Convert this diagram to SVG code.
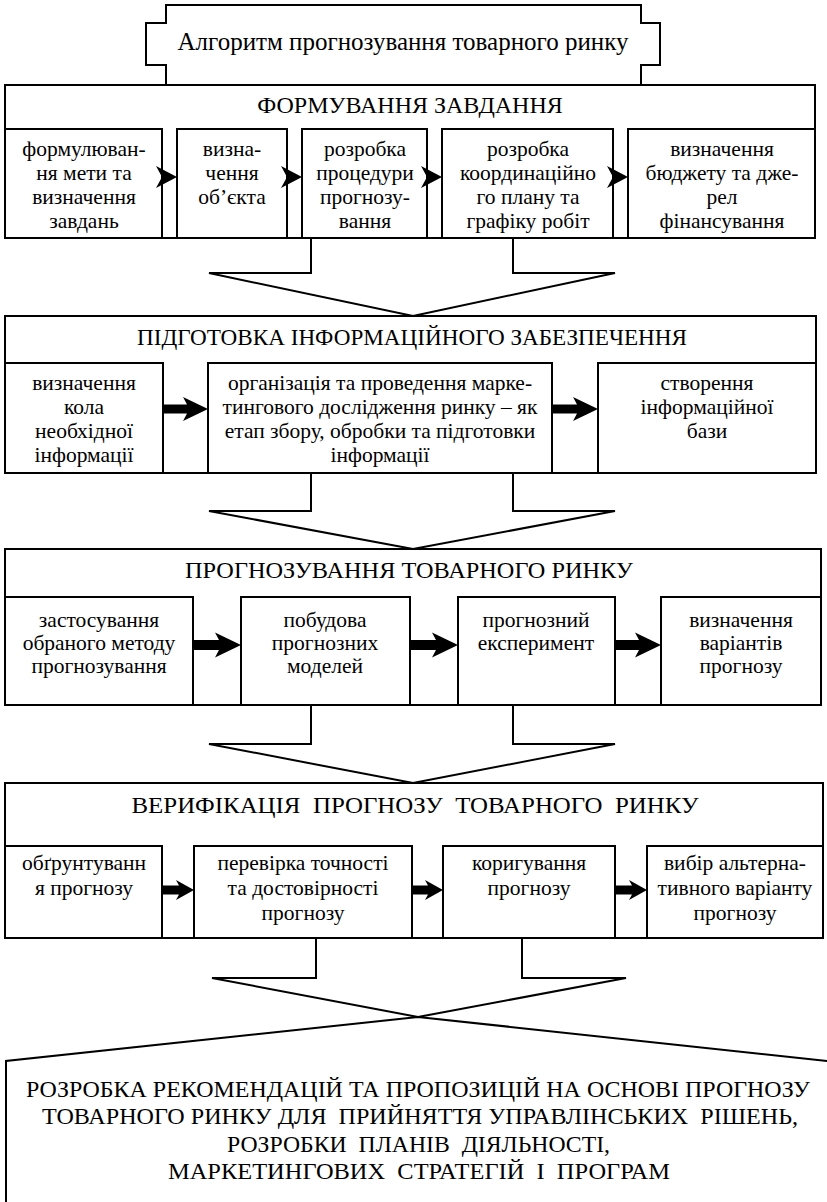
<svg xmlns="http://www.w3.org/2000/svg" width="827" height="1202" viewBox="0 0 827 1202">
  <style>
    .frame { fill: none; stroke: #000; stroke-width: 2; }
    .line { fill: none; stroke: #000; stroke-width: 2; }
    .arr { fill: #000; stroke: none; }
    text { font-family: "Liberation Serif", "Times New Roman", serif; fill: #000; text-anchor: middle; }
    .title { font-size: 25px; }
    .head { font-size: 24px; }
    .box { font-size: 21.5px; }
    .big { font-size: 24px; }
  </style>
  <rect width="827" height="1202" fill="#fff"/>

  <!-- title banner -->
  <g id="title">
    <path class="line" d="M166,85 V65 H146 V23 H166 V5 H641 V23 H660 V65 H641 V85"/>
    <text class="title" x="403" y="50">Алгоритм прогнозування товарного ринку</text>
  </g>

  <!-- stage 1 -->
  <g id="stage1">
    <text class="head" x="410" y="113">ФОРМУВАННЯ ЗАВДАННЯ</text>
    <g id="s1-goal">
      <text class="box" x="84" y="156">формулюван-</text>
      <text class="box" x="84" y="180">ня мети та</text>
      <text class="box" x="84" y="204">визначення</text>
      <text class="box" x="84" y="228">завдань</text>
      <rect class="frame" x="5" y="129" width="157" height="109"/>
    </g>
    <g id="s1-object">
      <text class="box" x="232" y="156">визна-</text>
      <text class="box" x="232" y="180">чення</text>
      <text class="box" x="232" y="204">об’єкта</text>
      <rect class="frame" x="177" y="129" width="110" height="109"/>
    </g>
    <g id="s1-procedure">
      <text class="box" x="365" y="156">розробка</text>
      <text class="box" x="365" y="180">процедури</text>
      <text class="box" x="365" y="204">прогнозу-</text>
      <text class="box" x="365" y="228">вання</text>
      <rect class="frame" x="302" y="129" width="125" height="109"/>
    </g>
    <g id="s1-plan">
      <text class="box" x="528" y="156">розробка</text>
      <text class="box" x="528" y="180">координаційно</text>
      <text class="box" x="528" y="204">го плану та</text>
      <text class="box" x="528" y="228">графіку робіт</text>
      <rect class="frame" x="442" y="129" width="171" height="109"/>
    </g>
    <g id="s1-budget">
      <text class="box" x="722" y="156">визначення</text>
      <text class="box" x="722" y="180">бюджету та дже-</text>
      <text class="box" x="722" y="204">рел</text>
      <text class="box" x="722" y="228">фінансування</text>
      <rect class="frame" x="628" y="129" width="187" height="109"/>
    </g>
    <rect class="frame" x="5" y="85" width="810" height="153"/>
  </g>

  <!-- stage 2 -->
  <g id="stage2">
    <text class="head" x="412" y="345" textLength="550" lengthAdjust="spacingAndGlyphs">ПІДГОТОВКА ІНФОРМАЦІЙНОГО ЗАБЕЗПЕЧЕННЯ</text>
    <g id="s2-scope">
      <text class="box" x="84" y="390">визначення</text>
      <text class="box" x="84" y="414">кола</text>
      <text class="box" x="84" y="438">необхідної</text>
      <text class="box" x="84" y="462">інформації</text>
      <rect class="frame" x="5" y="363" width="158" height="110"/>
    </g>
    <g id="s2-research">
      <text class="box" x="380" y="390">організація та проведення марке-</text>
      <text class="box" x="380" y="414">тингового дослідження ринку – як</text>
      <text class="box" x="380" y="438">етап збору, обробки та підготовки</text>
      <text class="box" x="380" y="462">інформації</text>
      <rect class="frame" x="208" y="363" width="344" height="110"/>
    </g>
    <g id="s2-base">
      <text class="box" x="707" y="390">створення</text>
      <text class="box" x="707" y="414">інформаційної</text>
      <text class="box" x="707" y="438">бази</text>
      <rect class="frame" x="598" y="363" width="218" height="110"/>
    </g>
    <rect class="frame" x="5" y="316" width="811" height="157"/>
  </g>

  <!-- stage 3 -->
  <g id="stage3">
    <text class="head" x="409" y="578" textLength="448" lengthAdjust="spacingAndGlyphs">ПРОГНОЗУВАННЯ ТОВАРНОГО РИНКУ</text>
    <g id="s3-method">
      <text class="box" x="99" y="627">застосування</text>
      <text class="box" x="99" y="650">обраного методу</text>
      <text class="box" x="99" y="673">прогнозування</text>
      <rect class="frame" x="5" y="597" width="188" height="108"/>
    </g>
    <g id="s3-models">
      <text class="box" x="325" y="627">побудова</text>
      <text class="box" x="325" y="650">прогнозних</text>
      <text class="box" x="325" y="673">моделей</text>
      <rect class="frame" x="241" y="597" width="169" height="108"/>
    </g>
    <g id="s3-experiment">
      <text class="box" x="536" y="627">прогнозний</text>
      <text class="box" x="536" y="650">експеримент</text>
      <rect class="frame" x="458" y="597" width="157" height="108"/>
    </g>
    <g id="s3-variants">
      <text class="box" x="741" y="627">визначення</text>
      <text class="box" x="741" y="650">варіантів</text>
      <text class="box" x="741" y="673">прогнозу</text>
      <rect class="frame" x="661" y="597" width="160" height="108"/>
    </g>
    <rect class="frame" x="5" y="549" width="816" height="156"/>
  </g>

  <!-- stage 4 -->
  <g id="stage4">
    <text class="head" x="415" y="813" xml:space="preserve" textLength="567" lengthAdjust="spacingAndGlyphs">ВЕРИФІКАЦІЯ  ПРОГНОЗУ  ТОВАРНОГО  РИНКУ</text>
    <g id="s4-grounds">
      <text class="box" x="84" y="870">обґрунтуванн</text>
      <text class="box" x="84" y="895">я прогнозу</text>
      <rect class="frame" x="5" y="846" width="157" height="92"/>
    </g>
    <g id="s4-accuracy">
      <text class="box" x="303" y="870">перевірка точності</text>
      <text class="box" x="303" y="895">та достовірності</text>
      <text class="box" x="303" y="920">прогнозу</text>
      <rect class="frame" x="194" y="846" width="218" height="92"/>
    </g>
    <g id="s4-correction">
      <text class="box" x="529" y="870">коригування</text>
      <text class="box" x="529" y="895">прогнозу</text>
      <rect class="frame" x="443" y="846" width="172" height="92"/>
    </g>
    <g id="s4-choice">
      <text class="box" x="735" y="870">вибір альтерна-</text>
      <text class="box" x="735" y="895">тивного варіанту</text>
      <text class="box" x="735" y="920">прогнозу</text>
      <rect class="frame" x="647" y="846" width="176" height="92"/>
    </g>
    <rect class="frame" x="5" y="783" width="818" height="155"/>
  </g>

  <!-- final stage -->
  <g id="stage5">
    <path class="line" d="M6,1203 V1061 L418,1017 L828,1061"/>
    <text class="big" x="418" y="1097" textLength="784" lengthAdjust="spacingAndGlyphs">РОЗРОБКА РЕКОМЕНДАЦІЙ ТА ПРОПОЗИЦІЙ НА ОСНОВІ ПРОГНОЗУ</text>
    <text class="big" x="420" y="1124" xml:space="preserve" textLength="756" lengthAdjust="spacingAndGlyphs">ТОВАРНОГО РИНКУ ДЛЯ  ПРИЙНЯТТЯ УПРАВЛІНСЬКИХ  РІШЕНЬ,</text>
    <text class="big" x="418.5" y="1152" xml:space="preserve" textLength="383" lengthAdjust="spacingAndGlyphs">РОЗРОБКИ  ПЛАНІВ  ДІЯЛЬНОСТІ,</text>
    <text class="big" x="419" y="1179" xml:space="preserve" textLength="502" lengthAdjust="spacingAndGlyphs">МАРКЕТИНГОВИХ  СТРАТЕГІЙ  І  ПРОГРАМ</text>
  </g>

  <!-- connectors -->
  <g id="connectors">
    <!-- open arrows between stages -->
    <path class="line" d="M311,238 V273 H209 L413,316 L615,273 H513 V238"/>
    <path class="line" d="M311,473 V511 H209 L413,549 L615,511 H513 V473"/>
    <path class="line" d="M311,705 V744 H209 L413,783 L615,744 H513 V705"/>
    <path class="line" d="M316,938 V978 H212 L418,1017 L626,978 H522 V938"/>

    <!-- stage 1 step arrowheads -->
    <path class="arr" d="M177,177 l-21,-11 l6,11 l-6,11 z"/>
    <path class="arr" d="M302,177 l-21,-11 l6,11 l-6,11 z"/>
    <path class="arr" d="M442,177 l-21,-11 l6,11 l-6,11 z"/>
    <path class="arr" d="M628,177 l-21,-11 l6,11 l-6,11 z"/>

    <!-- stage 2 step arrows -->
    <path class="arr" d="M163,404.5 H187 L183,397 L208,409 L183,421 L187,413.5 H163 Z"/>
    <path class="arr" d="M552,404.5 H577 L573,397 L598,409 L573,421 L577,413.5 H552 Z"/>

    <!-- stage 3 step arrows -->
    <path class="arr" d="M193,640 H219 L215,632.5 L241,645 L215,657.5 L219,650 H193 Z"/>
    <path class="arr" d="M410,640 H436 L432,632.5 L458,645 L432,657.5 L436,650 H410 Z"/>
    <path class="arr" d="M615,640 H639 L635,632.5 L661,645 L635,657.5 L639,650 H615 Z"/>

    <!-- stage 4 step arrows -->
    <path class="arr" d="M162,885.5 H179 L176,880 L194,890 L176,900 L179,894.5 H162 Z"/>
    <path class="arr" d="M412,885.5 H428 L425,880 L443,890 L425,900 L428,894.5 H412 Z"/>
    <path class="arr" d="M615,885.5 H632 L629,880 L647,890 L629,900 L632,894.5 H615 Z"/>
  </g>
</svg>
